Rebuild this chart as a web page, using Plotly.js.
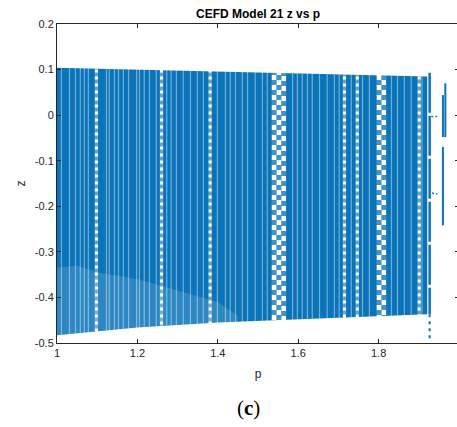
<!DOCTYPE html>
<html>
<head>
<meta charset="utf-8">
<script src="https://cdn.plot.ly/plotly-3.0.1.min.js"></script>
<style>
html,body{margin:0;padding:0;overflow:hidden;background:#fff;}
#chart{width:462px;height:427px;}
</style>
</head>
<body>
<div id="chart"></div>
<script>
// ---- data ----
var xTickVals = [1, 1.2, 1.4, 1.6, 1.8, 2];
var xTickText = ["1", "1.2", "1.4", "1.6", "1.8", "2"];
var yTickVals = [-0.5, -0.4, -0.3, -0.2, -0.1, 0, 0.1, 0.2];
var yTickText = ["-0.5", "-0.4", "-0.3", "-0.2", "-0.1", "0", "0.1", "0.2"];

// envelope of the dense point cloud
var bandP   = [1.0, 1.2, 1.4, 1.6, 1.8, 1.921];
var bandTop = [0.104, 0.100, 0.096, 0.092, 0.088, 0.085];
var bandBot = [-0.483, -0.466, -0.455, -0.447, -0.441, -0.437];

// thin lighter columns inside the cloud
var lightP = [1.011,1.031,1.046,1.058,1.068,1.078,1.123,1.130,1.143,1.153,1.165,1.178,
  1.198,1.205,1.217,1.230,1.247,1.273,1.284,1.297,1.314,1.332,1.349,1.364,1.399,1.419,
  1.431,1.444,1.461,1.474,1.493,1.511,1.523,1.586,1.598,1.610,1.623,1.635,1.653,1.672,
  1.690,1.702,1.732,1.760,1.777,1.832,1.847,1.864,1.881,1.908];
// gap columns (white dotted)
var dottedP = [1.098, 1.260, 1.381, 1.715, 1.747, 1.901];
// checkerboard columns
var checkP     = [1.540, 1.552, 1.564, 1.801, 1.813];
var checkStart = [0.110, 0.121, 0.108, 0.110, 0.121];
var stripeZ = [-0.49, 0.11];

// sparser speckled zone at lower left
var speckP   = [1.0, 1.05, 1.10, 1.20, 1.30, 1.40, 1.45];
var speckTop = [-0.335, -0.330, -0.345, -0.360, -0.385, -0.410, -0.440];

// isolated points / segments at the right end
var segP   = [1.927, 1.927, 1.960, 1.966, 1.960];
var segTop = [0.093, -0.437, 0.044, 0.070, -0.070];
var segBot = [-0.437, -0.492, -0.048, -0.048, -0.242];
var dashP1 = [1.931, 1.945];
var dashZ1 = [-0.003, -0.003];
var dashP2 = [1.933, 1.946];
var dashZ2 = [-0.171, -0.173];

// ---- build traces ----
var blue = '#0b74b9';
function revArr(a){ return a.slice().reverse(); }
function vlines(ps, z0, z1){
  var x = [], y = [];
  for (var i = 0; i < ps.length; i++){
    x.push(ps[i], ps[i], null);
    y.push(z0, z1, null);
  }
  return {x: x, y: y};
}

var traces = [];
traces.push({
  type: 'scatter', mode: 'lines',
  x: bandP.concat(revArr(bandP)),
  y: bandTop.concat(revArr(bandBot)),
  fill: 'toself', fillcolor: blue, line: {width: 0, color: blue},
  hoverinfo: 'skip', showlegend: false
});
// speckled zone
traces.push({
  type: 'scatter', mode: 'lines',
  x: speckP.concat([1.45, 1.0]),
  y: speckTop.concat([-0.5, -0.5]),
  fill: 'toself', fillcolor: 'rgba(255,255,255,0.14)', line: {width: 0},
  hoverinfo: 'skip', showlegend: false
});
var lv = vlines(lightP, stripeZ[0], stripeZ[1]);
traces.push({
  type: 'scatter', mode: 'lines', x: lv.x, y: lv.y,
  line: {color: 'rgba(255,255,255,0.42)', width: 1.2},
  hoverinfo: 'skip', showlegend: false
});
var dv = vlines(dottedP, stripeZ[0], stripeZ[1]);
traces.push({
  type: 'scatter', mode: 'lines', x: dv.x, y: dv.y,
  line: {color: 'rgba(255,255,255,0.35)', width: 3.5},
  hoverinfo: 'skip', showlegend: false
});
traces.push({
  type: 'scatter', mode: 'lines', x: dv.x, y: dv.y,
  line: {color: '#ffffff', width: 3, dash: '3px,4px'},
  hoverinfo: 'skip', showlegend: false
});
for (var k = 0; k < checkP.length; k++){
  traces.push({
    type: 'scatter', mode: 'lines',
    x: [checkP[k], checkP[k]], y: [checkStart[k], stripeZ[0]],
    line: {color: 'rgba(255,255,255,0.22)', width: 5},
    hoverinfo: 'skip', showlegend: false
  });
  traces.push({
    type: 'scatter', mode: 'lines',
    x: [checkP[k], checkP[k]], y: [checkStart[k], stripeZ[0]],
    line: {color: '#ffffff', width: 4.5, dash: '5px,5px'},
    hoverinfo: 'skip', showlegend: false
  });
}
// right-end segments
var sx = [], sy = [];
for (var s = 0; s < segP.length; s++){
  sx.push(segP[s], segP[s], null);
  sy.push(segTop[s], segBot[s], null);
}
traces.push({
  type: 'scatter', mode: 'lines', x: sx.slice(0, 3), y: sy.slice(0, 3),
  line: {color: blue, width: 2.5, dash: '40px,3px'},
  hoverinfo: 'skip', showlegend: false
});
traces.push({
  type: 'scatter', mode: 'lines', x: sx.slice(3, 6), y: sy.slice(3, 6),
  line: {color: blue, width: 2, dash: '3px,4px'},
  hoverinfo: 'skip', showlegend: false
});
traces.push({
  type: 'scatter', mode: 'lines', x: sx.slice(6), y: sy.slice(6),
  line: {color: blue, width: 2},
  hoverinfo: 'skip', showlegend: false
});
traces.push({
  type: 'scatter', mode: 'lines', x: dashP1.concat([null], dashP2), y: dashZ1.concat([null], dashZ2),
  line: {color: blue, width: 1.5, dash: '2px,2px'},
  hoverinfo: 'skip', showlegend: false
});

var axisCol = '#262626';
var layout = {
  width: 462, height: 427,
  margin: {l: 57, r: 3, t: 24, b: 84},
  paper_bgcolor: '#ffffff', plot_bgcolor: '#ffffff',
  showlegend: false,
  font: {family: 'Liberation Sans, Arial, sans-serif', size: 11, color: axisCol},
  title: {
    text: '<b>CEFD Model 21 z vs p</b>',
    font: {family: 'Liberation Sans, Arial, sans-serif', size: 12, color: '#000000'},
    x: 0.5, xref: 'paper', xanchor: 'center',
    y: 1 - 14/427, yref: 'container', yanchor: 'middle'
  },
  xaxis: {
    range: [1, 2], tickvals: xTickVals, ticktext: xTickText,
    ticks: 'inside', ticklen: 4, tickcolor: axisCol, tickwidth: 1,
    showline: true, linecolor: axisCol, linewidth: 1, mirror: 'ticks',
    showgrid: false, zeroline: false, automargin: false,
    tickfont: {size: 11, color: axisCol},
    title: {text: 'p', font: {size: 12, color: axisCol}, standoff: 11}
  },
  yaxis: {
    range: [-0.5, 0.2], tickvals: yTickVals, ticktext: yTickText,
    ticks: 'inside', ticklen: 4, tickcolor: axisCol, tickwidth: 1,
    showline: true, linecolor: axisCol, linewidth: 1, mirror: 'ticks',
    showgrid: false, zeroline: false, automargin: false,
    tickfont: {size: 11, color: axisCol},
    title: {text: 'z', font: {size: 12, color: axisCol}, standoff: 6}
  },
  annotations: [{
    text: '(<b>c</b>)', xref: 'paper', yref: 'paper',
    x: (248 - 57) / 402, y: (342.7 - 408) / 318.7,
    xanchor: 'center', yanchor: 'middle', showarrow: false,
    font: {family: 'Liberation Serif, Times New Roman, serif', size: 21, color: '#000000'}
  }]
};

Plotly.newPlot('chart', traces, layout, {staticPlot: true, displayModeBar: false});
</script>
</body>
</html>
